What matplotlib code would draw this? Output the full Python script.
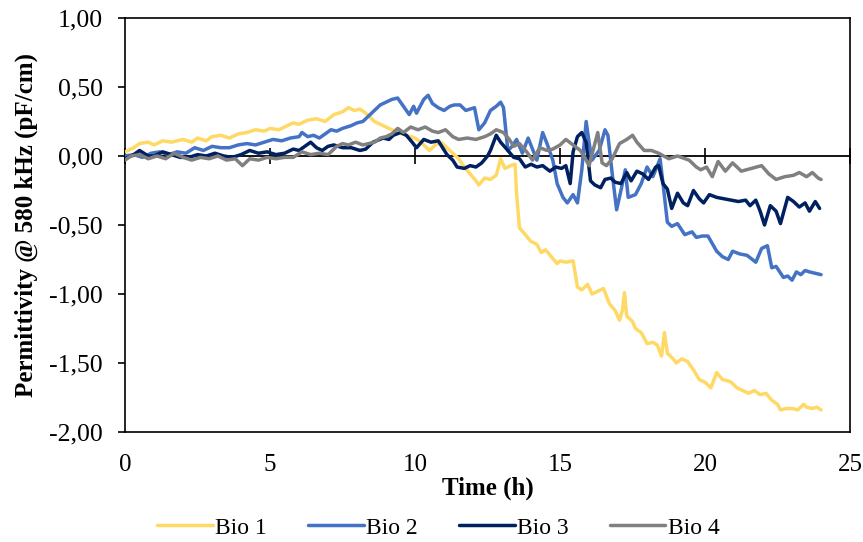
import matplotlib
matplotlib.use("Agg")
import matplotlib.pyplot as plt
from matplotlib.ticker import FuncFormatter

# ---- data: permittivity at 580 kHz (pF/cm) vs time (h) ----
bio1_t = [0.0, 0.3, 0.5, 0.8, 1.0, 1.3, 1.6, 2.0, 2.3, 2.5, 2.8, 3.0, 3.3, 3.6, 3.9, 4.2, 4.5, 4.8,
          5.0, 5.3, 5.6, 5.8, 6.0, 6.3, 6.6, 6.9, 7.2, 7.5, 7.7, 7.9, 8.1, 8.3, 8.6, 8.9, 9.1, 9.4,
          9.7, 10.0, 10.2, 10.5, 10.7, 10.9, 11.1, 11.3, 11.5, 11.7, 11.9, 12.1, 12.2, 12.4, 12.6,
          12.8, 12.95, 13.1, 13.3, 13.45, 13.5, 13.6, 13.8, 14.0, 14.2, 14.35, 14.5, 14.7, 14.9,
          15.0, 15.2, 15.45, 15.6, 15.75, 15.95, 16.1, 16.3, 16.5, 16.7, 16.9, 17.05, 17.15, 17.22,
          17.3, 17.5, 17.6, 17.8, 18.0, 18.2, 18.35, 18.5, 18.6, 18.7, 18.9, 19.0, 19.2, 19.4, 19.6,
          19.8, 20.0, 20.2, 20.4, 20.6, 20.8, 20.9, 21.1, 21.3, 21.5, 21.7, 21.9, 22.1, 22.3, 22.5,
          22.6, 22.8, 23.0, 23.2, 23.4, 23.5, 23.7, 23.85, 24.0]
bio1_v = [0.03, 0.06, 0.09, 0.10, 0.08, 0.11, 0.10, 0.12, 0.10, 0.13, 0.11, 0.14, 0.15, 0.13, 0.16,
          0.17, 0.19, 0.18, 0.20, 0.19, 0.22, 0.24, 0.23, 0.26, 0.27, 0.25, 0.30, 0.32, 0.35, 0.33,
          0.34, 0.31, 0.25, 0.22, 0.20, 0.17, 0.15, 0.13, 0.10, 0.04, 0.08, 0.10, 0.06, 0.02, -0.02,
          -0.08, -0.13, -0.18, -0.21, -0.16, -0.17, -0.14, -0.02, -0.09, -0.07, -0.06, -0.27, -0.52,
          -0.57, -0.62, -0.64, -0.70, -0.68, -0.73, -0.78, -0.76, -0.77, -0.76, -0.95, -0.97, -0.93,
          -1.00, -0.98, -0.96, -1.07, -1.12, -1.19, -1.12, -0.99, -1.16, -1.20, -1.25, -1.28, -1.36,
          -1.35, -1.37, -1.45, -1.28, -1.43, -1.47, -1.50, -1.47, -1.49, -1.55, -1.62, -1.64, -1.68,
          -1.57, -1.62, -1.63, -1.64, -1.68, -1.70, -1.72, -1.70, -1.73, -1.72, -1.77, -1.80, -1.84,
          -1.83, -1.83, -1.84, -1.80, -1.82, -1.83, -1.82, -1.84]

bio2_t = [0.0, 0.3, 0.6, 0.9, 1.2, 1.5, 1.8, 2.1, 2.4, 2.7, 3.0, 3.3, 3.6, 3.9, 4.2, 4.5, 4.8, 5.1,
          5.4, 5.7, 6.0, 6.1, 6.3, 6.5, 6.7, 6.9, 7.1, 7.3, 7.5, 7.8, 8.0, 8.2, 8.45, 8.65, 8.8, 9.0,
          9.2, 9.4, 9.6, 9.8, 9.95, 10.05, 10.3, 10.45, 10.6, 10.8, 11.0, 11.2, 11.35, 11.55, 11.75,
          11.9, 12.05, 12.2, 12.4, 12.6, 12.8, 12.95, 13.05, 13.2, 13.35, 13.5, 13.7, 13.9, 14.05,
          14.2, 14.4, 14.55, 14.75, 14.9, 15.1, 15.25, 15.45, 15.6, 15.75, 15.9, 16.0, 16.1, 16.35,
          16.55, 16.65, 16.8, 16.95, 17.1, 17.25, 17.35, 17.6, 17.8, 18.0, 18.2, 18.45, 18.55, 18.7,
          18.85, 19.05, 19.3, 19.55, 19.7, 19.9, 20.1, 20.4, 20.6, 20.8, 20.95, 21.2, 21.45, 21.75,
          21.95, 22.15, 22.3, 22.45, 22.7, 22.85, 23.0, 23.15, 23.3, 23.45, 23.6, 23.8, 24.0]
bio2_v = [0.0, 0.01, -0.01, 0.02, 0.03, 0.01, 0.03, 0.02, 0.06, 0.04, 0.07, 0.06, 0.06, 0.08, 0.09,
          0.08, 0.10, 0.12, 0.11, 0.13, 0.14, 0.17, 0.14, 0.15, 0.13, 0.16, 0.19, 0.18, 0.20, 0.22,
          0.24, 0.25, 0.30, 0.34, 0.37, 0.39, 0.41, 0.42, 0.36, 0.30, 0.36, 0.31, 0.41, 0.44, 0.38,
          0.35, 0.33, 0.36, 0.37, 0.37, 0.33, 0.34, 0.35, 0.19, 0.24, 0.33, 0.36, 0.39, 0.35, 0.04,
          0.07, 0.12, 0.02, 0.13, 0.05, -0.03, 0.17, 0.09, -0.03, -0.20, -0.30, -0.34, -0.28, -0.34,
          -0.10, 0.25, 0.10, -0.03, 0.04, 0.19, 0.15, -0.13, -0.39, -0.25, -0.10, -0.30, -0.28, -0.20,
          -0.08, -0.15, -0.02, -0.20, -0.48, -0.51, -0.49, -0.57, -0.55, -0.59, -0.58, -0.58, -0.69,
          -0.73, -0.75, -0.69, -0.71, -0.72, -0.77, -0.67, -0.65, -0.81, -0.80, -0.88, -0.87, -0.90,
          -0.84, -0.86, -0.83, -0.84, -0.85, -0.86]

bio3_t = [0.0, 0.3, 0.5, 0.8, 1.0, 1.3, 1.6, 1.9, 2.2, 2.5, 2.8, 3.1, 3.4, 3.7, 4.0, 4.3, 4.6, 4.9,
          5.2, 5.5, 5.8, 6.0, 6.2, 6.4, 6.6, 6.8, 7.0, 7.2, 7.5, 7.8, 8.1, 8.3, 8.55, 8.9, 9.1, 9.25,
          9.5, 9.7, 9.9, 10.05, 10.3, 10.55, 10.8, 10.95, 11.1, 11.3, 11.45, 11.7, 11.9, 12.1, 12.3,
          12.5, 12.6, 12.8, 12.95, 13.2, 13.4, 13.6, 13.8, 14.0, 14.2, 14.4, 14.65, 14.85, 15.05,
          15.2, 15.35, 15.45, 15.6, 15.75, 15.9, 16.05, 16.2, 16.4, 16.55, 16.75, 16.9, 17.1, 17.3,
          17.45, 17.65, 17.85, 18.05, 18.3, 18.4, 18.55, 18.7, 18.85, 19.05, 19.25, 19.4, 19.6, 19.8,
          19.95, 20.15, 20.4, 20.65, 20.9, 21.15, 21.4, 21.55, 21.75, 21.9, 22.05, 22.25, 22.45,
          22.6, 22.85, 23.05, 23.25, 23.45, 23.6, 23.8, 23.95]
bio3_v = [-0.02, 0.01, 0.04, 0.0, 0.0, 0.03, 0.01, -0.01, -0.01, 0.01, 0.0, 0.02, 0.0, -0.01, 0.01,
          0.04, 0.02, 0.03, 0.01, 0.02, 0.05, 0.04, 0.07, 0.10, 0.06, 0.04, 0.07, 0.08, 0.06, 0.06,
          0.04, 0.05, 0.10, 0.13, 0.12, 0.15, 0.17, 0.15, 0.10, 0.06, 0.12, 0.10, 0.11, 0.06, 0.01,
          -0.03, -0.08, -0.09, -0.07, -0.08, -0.05, 0.0, 0.04, 0.15, 0.10, 0.04, -0.01, -0.02, -0.08,
          -0.06, -0.08, -0.07, -0.11, -0.08, -0.09, -0.07, -0.20, 0.03, 0.14, 0.17, 0.10, -0.18,
          -0.21, -0.23, -0.17, -0.16, -0.19, -0.20, -0.12, -0.18, -0.11, -0.13, -0.17, -0.08, -0.07,
          -0.20, -0.24, -0.38, -0.27, -0.34, -0.36, -0.25, -0.31, -0.34, -0.28, -0.30, -0.31, -0.32,
          -0.33, -0.32, -0.36, -0.32, -0.40, -0.50, -0.36, -0.40, -0.49, -0.30, -0.33, -0.37, -0.34,
          -0.40, -0.33, -0.38]

bio4_t = [0.0, 0.2, 0.5, 0.8, 1.1, 1.4, 1.7, 2.0, 2.3, 2.6, 2.9, 3.2, 3.5, 3.8, 4.05, 4.3, 4.6,
          4.9, 5.2, 5.5, 5.8, 6.1, 6.4, 6.7, 7.0, 7.3, 7.5, 7.7, 7.95, 8.2, 8.4, 8.6, 8.8, 9.0, 9.2,
          9.4, 9.6, 9.85, 10.1, 10.35, 10.6, 10.8, 11.05, 11.3, 11.5, 11.8, 12.1, 12.4, 12.6, 12.8,
          13.05, 13.25, 13.4, 13.6, 13.85, 14.05, 14.3, 14.55, 14.75, 15.0, 15.2, 15.45, 15.7,
          15.85, 16.0, 16.15, 16.3, 16.45, 16.6, 16.8, 17.05, 17.3, 17.5, 17.65, 17.9, 18.15, 18.4,
          18.75, 19.05, 19.45, 19.7, 19.85, 20.05, 20.25, 20.45, 20.7, 20.95, 21.25, 21.6, 21.95,
          22.2, 22.45, 22.75, 23.05, 23.25, 23.5, 23.7, 23.9, 24.0]
bio4_v = [-0.03, 0.0, 0.01, -0.02, 0.0, -0.02, 0.02, -0.01, -0.03, -0.01, -0.02, 0.0, -0.03, -0.02,
          -0.07, -0.02, -0.03, -0.01, -0.02, -0.01, -0.01, 0.03, 0.01, 0.02, 0.01, 0.07, 0.09, 0.08,
          0.10, 0.08, 0.09, 0.10, 0.13, 0.14, 0.16, 0.20, 0.17, 0.21, 0.19, 0.21, 0.18, 0.17, 0.19,
          0.14, 0.12, 0.13, 0.12, 0.14, 0.16, 0.19, 0.17, 0.12, 0.07, 0.09, 0.03, -0.03, 0.06, 0.04,
          0.05, 0.08, 0.12, 0.08, 0.04, -0.01, -0.07, 0.05, 0.17, -0.05, -0.07, -0.02, 0.09, 0.12,
          0.15, 0.10, 0.04, 0.04, 0.02, -0.02, 0.0, -0.03, -0.08, -0.10, -0.08, -0.15, -0.04, -0.11,
          -0.05, -0.11, -0.09, -0.07, -0.13, -0.17, -0.15, -0.14, -0.12, -0.15, -0.12, -0.16, -0.17]

series_names = ["Bio 1", "Bio 2", "Bio 3", "Bio 4"]
series_colors = ["#FFD966", "#4472C4", "#002060", "#808080"]
x_ticks = [0, 5, 10, 15, 20, 25]
y_ticks = [-2.0, -1.5, -1.0, -0.5, 0.0, 0.5, 1.0]

plt.rcParams["font.family"] = ["Liberation Serif", "DejaVu Serif"]

fig = plt.figure(figsize=(8.63, 5.42), dpi=100)
ax = fig.add_axes([0.1449, 0.203, 0.8401, 0.7638])

for t, v, name, color in zip([bio1_t, bio2_t, bio3_t, bio4_t],
                             [bio1_v, bio2_v, bio3_v, bio4_v],
                             series_names, series_colors):
    ax.plot(t, v, color=color, lw=2.5, label=name, solid_joinstyle="round",
            solid_capstyle="round", zorder=3)

ax.set_xlim(0, 25)
ax.set_ylim(-2, 1)
ax.set_xticks(x_ticks)
ax.set_yticks(y_ticks)
ax.yaxis.set_major_formatter(FuncFormatter(lambda v, p: f"{v:.2f}".replace(".", ",")))

for s in ax.spines.values():
    s.set_linewidth(1.2)
    s.set_color("black")

ax.tick_params(axis="x", length=0, pad=16, labelsize=18)
ax.tick_params(axis="y", direction="out", length=5, width=1.2, pad=11, labelsize=18.5)

# horizontal axis drawn through zero, with crossing tick marks
ylo, yhi = ax.get_ylim()
zero_ax = ax.secondary_xaxis((0 - ylo) / (yhi - ylo))
zero_ax.set_xticks(x_ticks)
zero_ax.tick_params(axis="x", direction="inout", length=11, width=1.2, labelbottom=False,
                    labeltop=False)
zero_ax.spines["bottom"].set_linewidth(1.3)
zero_ax.spines["top"].set_linewidth(1.3)

ax.set_xlabel("Time (h)", fontsize=18, fontweight="bold", labelpad=0)
ax.set_ylabel("Permittivity @ 580 kHz (pF/cm)", fontsize=18, fontweight="bold", labelpad=8)

handles, labels = ax.get_legend_handles_labels()
fig.legend(handles, labels, loc="center", bbox_to_anchor=(0.508, 0.026), ncol=4,
           frameon=False, fontsize=17, handlelength=2.35, handletextpad=0.1,
           columnspacing=1.75)

fig.savefig("out.png", dpi=100)
